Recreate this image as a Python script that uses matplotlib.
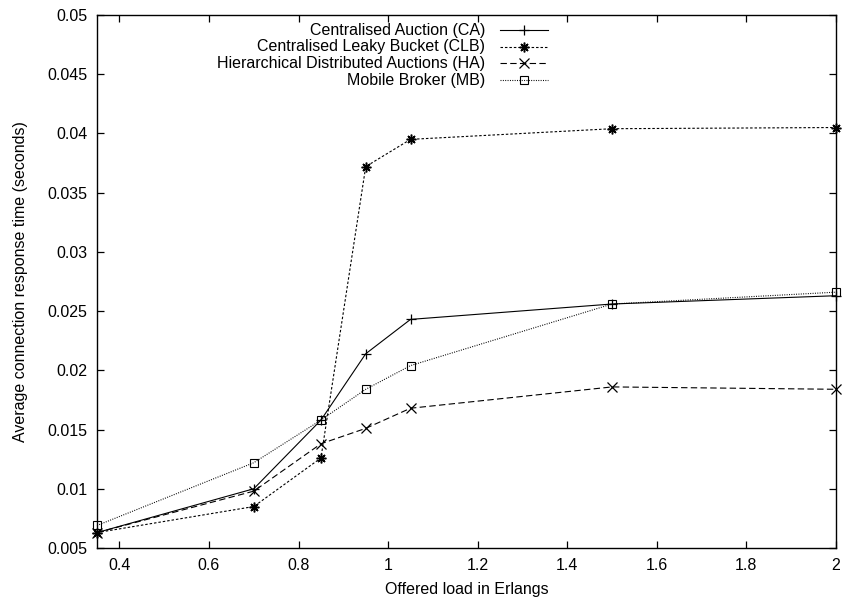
import matplotlib
matplotlib.use("Agg")
import matplotlib.pyplot as plt
from matplotlib.lines import Line2D

plt.rcParams['font.family'] = ['Liberation Sans', 'DejaVu Sans']
plt.rcParams['font.size'] = 11.5
plt.rcParams['lines.scale_dashes'] = False

# offered load (Erlangs)
load = [0.35, 0.7, 0.85, 0.95, 1.05, 1.5, 2.0]

# average connection response time (s)
ca = [0.0063, 0.0100, 0.0158, 0.0214, 0.0243, 0.0256, 0.0263]
clb = [0.0063, 0.0085, 0.0126, 0.0372, 0.0395, 0.0404, 0.0405]
ha = [0.0063, 0.0098, 0.0138, 0.0151, 0.0168, 0.0186, 0.0184]
mb = [0.0069, 0.0122, 0.0158, 0.0184, 0.0204, 0.0256, 0.0266]

names = ['Centralised Auction (CA)',
         'Centralised Leaky Bucket (CLB)',
         'Hierarchical Distributed Auctions (HA)',
         'Mobile Broker (MB)']

xticks = [0.4, 0.6, 0.8, 1.0, 1.2, 1.4, 1.6, 1.8, 2.0]
xticklabels = ['0.4', '0.6', '0.8', '1', '1.2', '1.4', '1.6', '1.8', '2']
yticks = [0.005, 0.01, 0.015, 0.02, 0.025, 0.03, 0.035, 0.04, 0.045, 0.05]
yticklabels = ['0.005', '0.01', '0.015', '0.02', '0.025', '0.03', '0.035', '0.04', '0.045', '0.05']

# gnuplot-ish line types
styles = [
    dict(linestyle='-', marker='+', ms=7, mew=0.9),
    dict(dashes=(1.8, 1.4), marker=(8, 2, 0), ms=7, mew=1.1),
    dict(dashes=(4.6, 2.4), marker='x', ms=6.5, mew=0.9),
    dict(dashes=(0.7, 1.0), marker='s', ms=6, mew=0.8, fillstyle='none'),
]

fig = plt.figure(figsize=(8.43, 6.03), dpi=100)
ax = fig.add_axes([97 / 843, 1 - 548 / 603, (836 - 97) / 843, (548 - 15) / 603])

series = [ca, clb, ha, mb]
for y, st in zip(series, styles):
    ax.plot(load, y, color='black', lw=0.8, clip_on=False, **st)

ax.set_xlim(0.35, 2.0)
ax.set_ylim(0.005, 0.05)
ax.set_xticks(xticks)
ax.set_xticklabels(xticklabels)
ax.set_yticks(yticks)
ax.set_yticklabels(yticklabels)
ax.tick_params(direction='in', length=5, width=0.9, top=True, right=True, pad=7)
for s in ax.spines.values():
    s.set_linewidth(1.0)

ax.set_xlabel('Offered load in Erlangs', labelpad=7)
ax.set_ylabel('Average connection response time (seconds)', labelpad=14)

# key, text right-aligned with the sample to its right
key_y = [30, 46.7, 63.3, 80]
for name, st, yp in zip(names, styles, key_y):
    yf = 1 - yp / 603
    fig.text(485 / 843, yf, name, ha='right', va='center')
    ln = dict(st)
    mk = ln.pop('marker')
    ms = ln.pop('ms')
    mew = ln.pop('mew')
    fs = ln.pop('fillstyle', 'full')
    fig.add_artist(Line2D([500 / 843, 548 / 843], [yf, yf], color='black', lw=0.8, **ln))
    fig.add_artist(Line2D([524 / 843], [yf], color='black', marker=mk, ms=ms, mew=mew,
                          fillstyle=fs, linestyle='none'))

fig.savefig('out.png', dpi=100)
